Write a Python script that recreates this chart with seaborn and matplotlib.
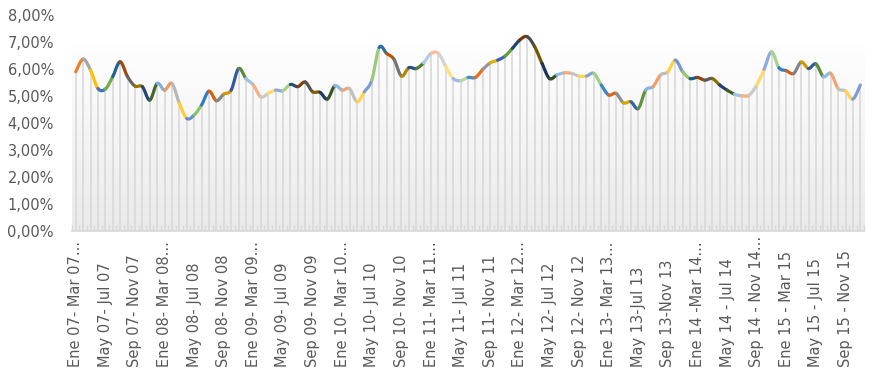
import colorsys

import numpy as np
import pandas as pd
import matplotlib

matplotlib.use("Agg")
import matplotlib.pyplot as plt
import matplotlib.transforms as mtransforms
import seaborn as sns
from matplotlib.colors import to_rgb, LinearSegmentedColormap
from matplotlib.ticker import FixedLocator, FuncFormatter

# tasa trimestral movil (%), un punto por mes de inicio: Ene 07 ... Nov 15
tasa = [
    5.90, 6.37, 5.96, 5.28, 5.26, 5.72, 6.27, 5.72, 5.37, 5.35,
    4.85, 5.47, 5.22, 5.47, 4.73, 4.17, 4.30, 4.67, 5.18, 4.83,
    5.07, 5.22, 6.02, 5.65, 5.41, 4.97, 5.10, 5.22, 5.20, 5.43,
    5.35, 5.52, 5.16, 5.14, 4.89, 5.38, 5.22, 5.27, 4.79, 5.16,
    5.59, 6.80, 6.58, 6.36, 5.74, 6.05, 6.02, 6.23, 6.58, 6.58,
    6.09, 5.65, 5.57, 5.69, 5.69, 5.99, 6.23, 6.33, 6.48, 6.77,
    7.08, 7.20, 6.83, 6.21, 5.65, 5.78, 5.86, 5.84, 5.74, 5.74,
    5.84, 5.41, 5.04, 5.10, 4.75, 4.79, 4.54, 5.22, 5.35, 5.78,
    5.90, 6.33, 5.90, 5.65, 5.69, 5.59, 5.65, 5.41, 5.22, 5.07,
    5.01, 5.04, 5.41, 5.99, 6.64, 6.05, 5.94, 5.84, 6.26, 6.02,
    6.19, 5.72, 5.84, 5.28, 5.19, 4.89, 5.41,
]

etiquetas = [
    "Ene 07- Mar 07...", "May 07- Jul 07", "Sep 07- Nov 07",
    "Ene 08- Mar 08...", "May 08- Jul 08", "Sep 08- Nov 08",
    "Ene 09- Mar 09...", "May 09- Jul 09", "Sep 09- Nov 09",
    "Ene 10- Mar 10...", "May 10- Jul 10", "Sep 10- Nov 10",
    "Ene 11- Mar 11...", "May 11- Jul 11", "Sep 11- Nov 11",
    "Ene 12- Mar 12...", "May 12- Jul 12", "Sep 12- Nov 12",
    "Ene 13- Mar 13...", "May 13-Jul 13", "Sep 13-Nov 13",
    "Ene 14 -Mar 14...", "May 14 - Jul 14", "Sep 14 - Nov 14...",
    "Ene 15 - Mar 15", "May 15 - Jul 15", "Sep 15 - Nov 15",
]
paso_etiqueta = 4

# colores tipo Office, variando por punto
base = ["#5B9BD5", "#ED7D31", "#A5A5A5", "#FFC000", "#4472C4", "#70AD47"]
variantes = [
    (1.0, 0.0), (0.6, 0.0), (0.8, 0.2), (0.8, 0.0), (0.6, 0.4), (0.5, 0.0),
    (0.7, 0.3), (0.7, 0.0), (0.5, 0.5), (0.9, 0.0), (0.45, 0.0), (0.65, 0.35),
    (0.85, 0.0), (0.75, 0.25), (0.55, 0.0), (0.6, 0.4), (0.8, 0.0), (0.7, 0.3),
]


def color_punto(i):
    c = base[i % 6]
    mod, off = variantes[(i // 6) % len(variantes)]
    h, l, s = colorsys.rgb_to_hls(*to_rgb(c))
    return colorsys.hls_to_rgb(h, min(1.0, l * mod + off), s)


def suavizar(y, i, n=14):
    # tramo i-1 -> i con bezier tipo Excel (tangentes de Catmull-Rom)
    p0 = np.array([i - 2, y[i - 2]]) if i >= 2 else np.array([i - 1, y[i - 1]])
    p1 = np.array([i - 1, y[i - 1]])
    p2 = np.array([i, y[i]])
    p3 = np.array([i + 1, y[i + 1]]) if i + 1 < len(y) else p2
    c1 = p1 + (p2 - p0) / 6
    c2 = p2 - (p3 - p1) / 6
    t = np.linspace(0, 1, n)[:, None]
    pts = (1 - t) ** 3 * p1 + 3 * (1 - t) ** 2 * t * c1 + 3 * (1 - t) * t ** 2 * c2 + t ** 3 * p2
    return pts[:, 0], pts[:, 1]


sns.set_theme(style="white")
plt.rcParams["font.family"] = ["DejaVu Sans"]

n = len(tasa)
x = np.arange(n)

tramos = []
for i in range(1, n):
    xs, ys = suavizar(tasa, i)
    tramos.append(pd.DataFrame({"x": xs, "y": ys, "tramo": f"t{i:03d}"}))
df = pd.concat(tramos, ignore_index=True)
orden = [f"t{i:03d}" for i in range(1, n)]
paleta = [color_punto(i) for i in range(1, n)]

fig = plt.figure(figsize=(8.74, 3.87), dpi=100)
ax = fig.add_axes([0.0824, 0.403, 0.9062, 0.558])

# fondo degradado del area de trazado
grad = np.linspace(0, 1, 256)[:, None]
ax.imshow(grad, extent=(-0.5, n - 0.5, 0, 7), aspect="auto", origin="upper",
          cmap=LinearSegmentedColormap.from_list("g", ["#ffffff", "#eaeaea"]), zorder=0)

ax.vlines(x, 0, tasa, color="#d9d9d9", lw=1.2, zorder=1)

sns.lineplot(data=df, x="x", y="y", hue="tramo", hue_order=orden, palette=paleta,
             sort=False, estimator=None, legend=False, lw=2.3, ax=ax, zorder=3)

ax.set_xlim(-0.5, n - 0.5)
ax.set_ylim(0, 8)
ax.set_yticks(np.arange(0, 9, 1))
ax.yaxis.set_major_formatter(FuncFormatter(lambda v, p: f"{v:.2f}".replace(".", ",") + "%"))
ax.set_xticks([])
ax.xaxis.set_minor_locator(FixedLocator(np.arange(-0.5, n, 1)))
ax.tick_params(axis="x", which="minor", length=4, direction="in", color="#d9d9d9", bottom=True)
ax.tick_params(axis="y", length=0, pad=13, labelsize=10.5, labelcolor="#595959")
ax.set_xlabel("")
ax.set_ylabel("")

# etiquetas giradas, alineadas por abajo como en Excel
trans = mtransforms.blended_transform_factory(ax.transData, fig.transFigure)
for k, txt in enumerate(etiquetas):
    ax.text(k * paso_etiqueta, 20 / 387, txt, transform=trans, rotation=90,
            ha="center", va="bottom", fontsize=10.5, color="#595959", clip_on=False)

for s in ["top", "right", "left"]:
    ax.spines[s].set_visible(False)
ax.spines["bottom"].set_color("#d9d9d9")
ax.spines["bottom"].set_linewidth(1.2)

fig.savefig("out.png", dpi=100, facecolor="white")
